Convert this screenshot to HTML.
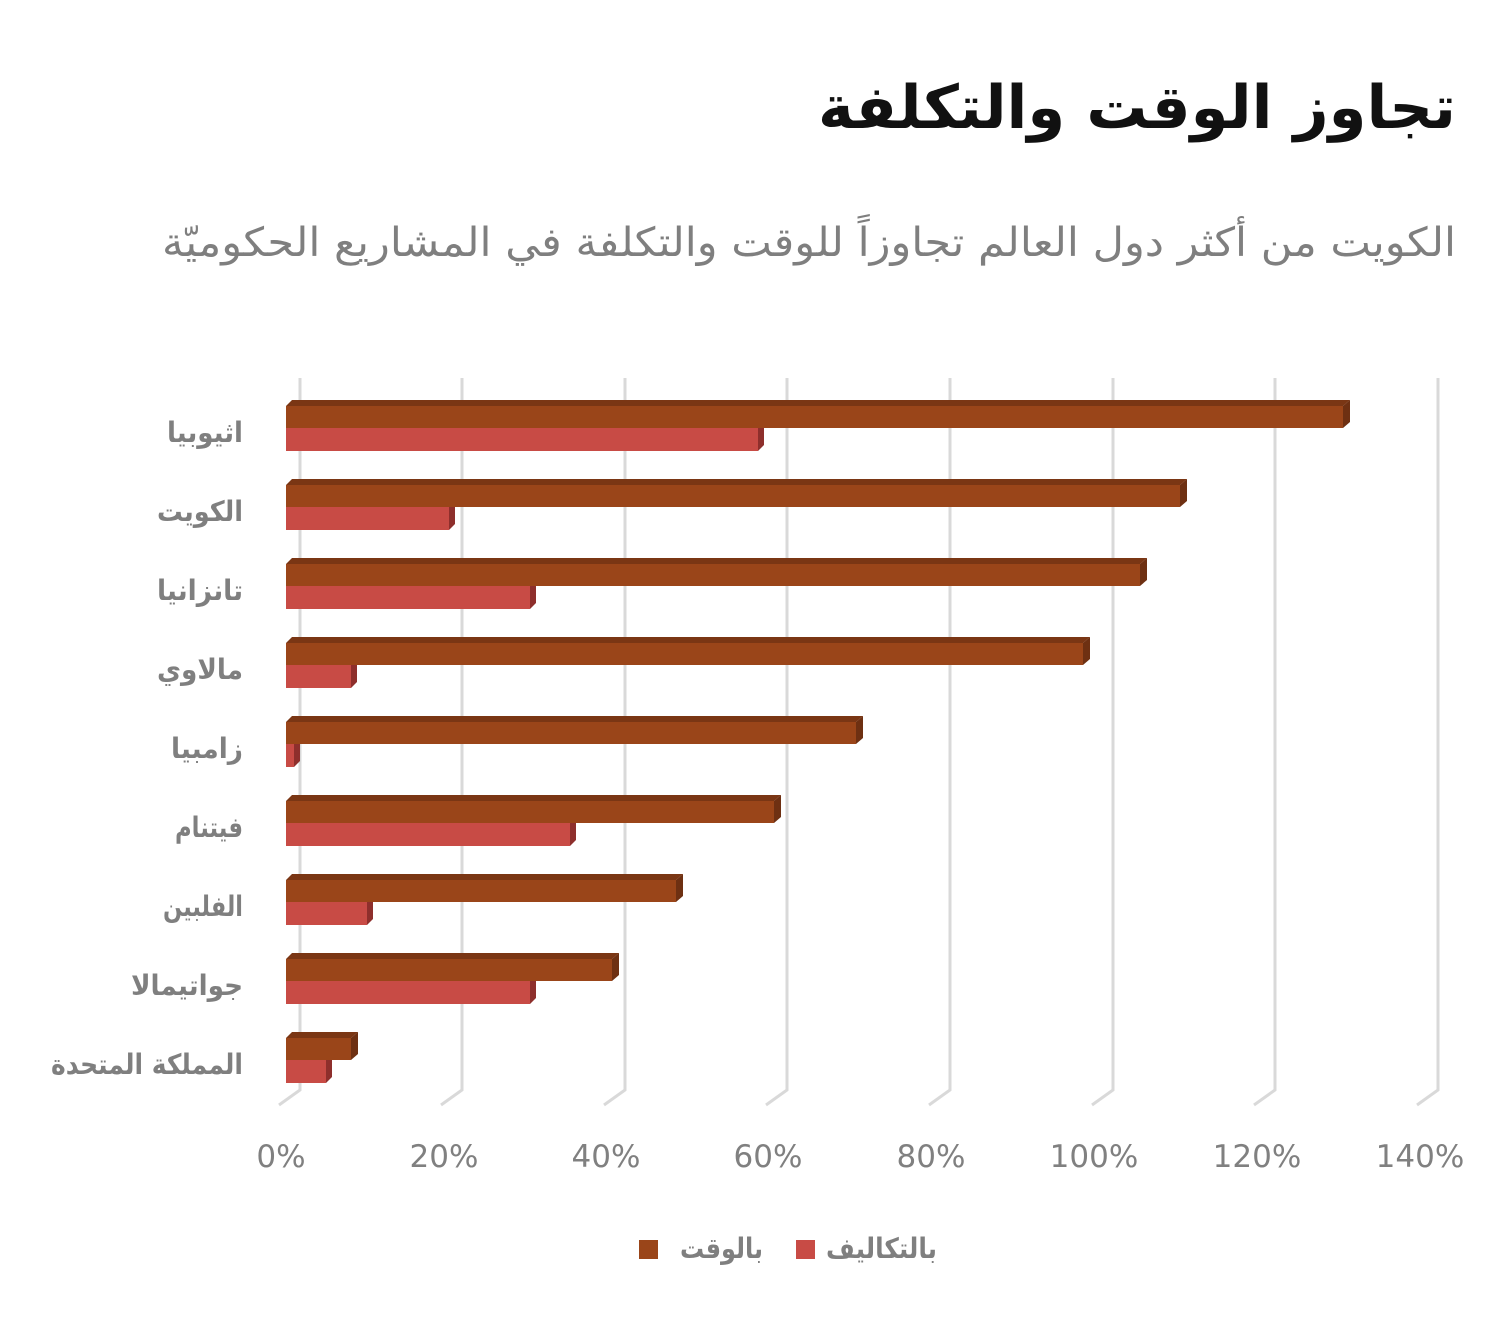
<!DOCTYPE html>
<html><head><meta charset="utf-8"><style>
html,body{margin:0;padding:0;background:#fff}
svg{display:block}
</style></head><body>
<svg width="1506" height="1321" viewBox="0 0 1506 1321" xmlns="http://www.w3.org/2000/svg" font-family="'DejaVu Sans','Liberation Sans',sans-serif">
<text x="1456" y="128" text-anchor="end" font-size="60" font-weight="bold" fill="#111" textLength="638" lengthAdjust="spacingAndGlyphs">تجاوز الوقت والتكلفة</text>
<text x="1456" y="256" text-anchor="end" font-size="40" fill="#7f7f7f" textLength="1294" lengthAdjust="spacingAndGlyphs">الكويت من أكثر دول العالم تجاوزاً للوقت والتكلفة في المشاريع الحكوميّة</text>
<g stroke="#d9d9d9" stroke-width="3" fill="none">
<polyline points="300,378 300,1090 279,1105"/>
<polyline points="462,378 462,1090 441,1105"/>
<polyline points="625,378 625,1090 604,1105"/>
<polyline points="787,378 787,1090 766,1105"/>
<polyline points="950,378 950,1090 929,1105"/>
<polyline points="1113,378 1113,1090 1092,1105"/>
<polyline points="1275,378 1275,1090 1254,1105"/>
<polyline points="1438,378 1438,1090 1417,1105"/>
</g>
<g font-size="31" fill="#808080" text-anchor="middle">
<text x="281" y="1167">0%</text><text x="444" y="1167">20%</text><text x="606" y="1167">40%</text><text x="768" y="1167">60%</text><text x="931" y="1167">80%</text><text x="1094" y="1167">100%</text><text x="1257" y="1167">120%</text><text x="1420" y="1167">140%</text>
</g>
<g>
<polygon fill="#8e2f2c" points="758,428 764,423 764,445 758,451"/><rect x="286" y="428" width="472" height="23" fill="#c84b45"/><rect x="286" y="406" width="1057" height="22" fill="#9a4519"/><polygon fill="#7a3614" points="286,406 292,400 1350,400 1343,406"/><polygon fill="#6e3012" points="1343,406 1350,400 1350,422 1343,428"/>
<polygon fill="#8e2f2c" points="449,507 455,502 455,524 449,530"/><rect x="286" y="507" width="163" height="23" fill="#c84b45"/><rect x="286" y="485" width="894" height="22" fill="#9a4519"/><polygon fill="#7a3614" points="286,485 292,479 1187,479 1180,485"/><polygon fill="#6e3012" points="1180,485 1187,479 1187,501 1180,507"/>
<polygon fill="#8e2f2c" points="530,586 536,581 536,603 530,609"/><rect x="286" y="586" width="244" height="23" fill="#c84b45"/><rect x="286" y="564" width="854" height="22" fill="#9a4519"/><polygon fill="#7a3614" points="286,564 292,558 1147,558 1140,564"/><polygon fill="#6e3012" points="1140,564 1147,558 1147,580 1140,586"/>
<polygon fill="#8e2f2c" points="351,665 357,660 357,682 351,688"/><rect x="286" y="665" width="65" height="23" fill="#c84b45"/><rect x="286" y="643" width="797" height="22" fill="#9a4519"/><polygon fill="#7a3614" points="286,643 292,637 1090,637 1083,643"/><polygon fill="#6e3012" points="1083,643 1090,637 1090,659 1083,665"/>
<polygon fill="#8e2f2c" points="294,744 300,739 300,761 294,767"/><rect x="286" y="744" width="8" height="23" fill="#c84b45"/><rect x="286" y="722" width="570" height="22" fill="#9a4519"/><polygon fill="#7a3614" points="286,722 292,716 863,716 856,722"/><polygon fill="#6e3012" points="856,722 863,716 863,738 856,744"/>
<polygon fill="#8e2f2c" points="570,823 576,818 576,840 570,846"/><rect x="286" y="823" width="284" height="23" fill="#c84b45"/><rect x="286" y="801" width="488" height="22" fill="#9a4519"/><polygon fill="#7a3614" points="286,801 292,795 781,795 774,801"/><polygon fill="#6e3012" points="774,801 781,795 781,817 774,823"/>
<polygon fill="#8e2f2c" points="367,902 373,897 373,919 367,925"/><rect x="286" y="902" width="81" height="23" fill="#c84b45"/><rect x="286" y="880" width="390" height="22" fill="#9a4519"/><polygon fill="#7a3614" points="286,880 292,874 683,874 676,880"/><polygon fill="#6e3012" points="676,880 683,874 683,896 676,902"/>
<polygon fill="#8e2f2c" points="530,981 536,976 536,998 530,1004"/><rect x="286" y="981" width="244" height="23" fill="#c84b45"/><rect x="286" y="959" width="326" height="22" fill="#9a4519"/><polygon fill="#7a3614" points="286,959 292,953 619,953 612,959"/><polygon fill="#6e3012" points="612,959 619,953 619,975 612,981"/>
<polygon fill="#8e2f2c" points="326,1060 332,1055 332,1077 326,1083"/><rect x="286" y="1060" width="40" height="23" fill="#c84b45"/><rect x="286" y="1038" width="65" height="22" fill="#9a4519"/><polygon fill="#7a3614" points="286,1038 292,1032 358,1032 351,1038"/><polygon fill="#6e3012" points="351,1038 358,1032 358,1054 351,1060"/>
</g>
<g font-size="28" font-weight="bold" fill="#7f7f7f" text-anchor="end">
<text x="243" y="442" textLength="76" lengthAdjust="spacingAndGlyphs">اثيوبيا</text>
<text x="243" y="521" textLength="86" lengthAdjust="spacingAndGlyphs">الكويت</text>
<text x="243" y="600" textLength="86" lengthAdjust="spacingAndGlyphs">تانزانيا</text>
<text x="243" y="679" textLength="86" lengthAdjust="spacingAndGlyphs">مالاوي</text>
<text x="243" y="758" textLength="72" lengthAdjust="spacingAndGlyphs">زامبيا</text>
<text x="243" y="837" textLength="68" lengthAdjust="spacingAndGlyphs">فيتنام</text>
<text x="243" y="916" textLength="80" lengthAdjust="spacingAndGlyphs">الفلبين</text>
<text x="243" y="995" textLength="112" lengthAdjust="spacingAndGlyphs">جواتيمالا</text>
<text x="243" y="1074" textLength="192" lengthAdjust="spacingAndGlyphs">المملكة المتحدة</text>
</g>
<rect x="639" y="1240" width="19" height="19" fill="#9a4519"/>
<text x="763" y="1258" text-anchor="end" font-size="28" font-weight="bold" fill="#7f7f7f" textLength="83" lengthAdjust="spacingAndGlyphs">بالوقت</text>
<rect x="796" y="1240" width="19" height="19" fill="#c84b45"/>
<text x="937" y="1258" text-anchor="end" font-size="28" font-weight="bold" fill="#7f7f7f" textLength="111" lengthAdjust="spacingAndGlyphs">بالتكاليف</text>
</svg>
</body></html>
